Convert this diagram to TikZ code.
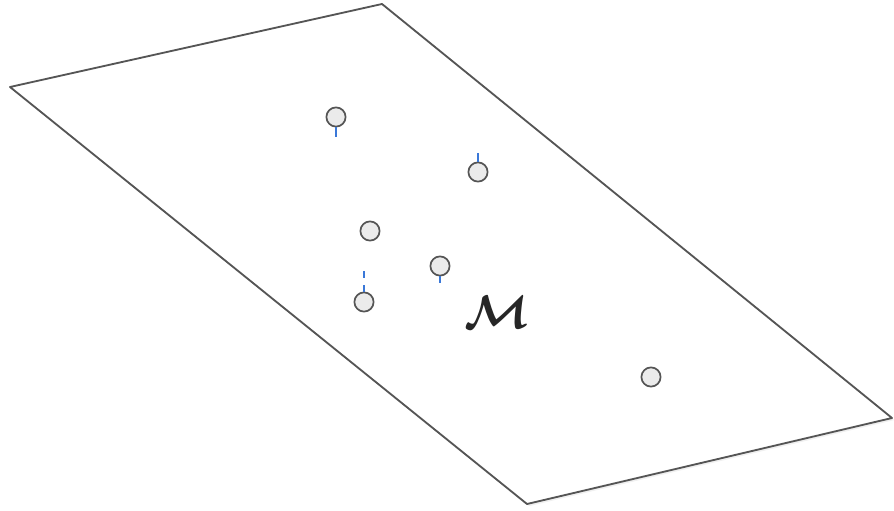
\documentclass[tikz,border=0pt]{standalone}
\usepackage{amsmath,amssymb,bm}
\usepackage{xcolor}
\usepackage{tikz}
\usetikzlibrary{shadows}
\definecolor{edgegray}{HTML}{555555}
\definecolor{ptfill}{HTML}{EBEBEB}
\definecolor{offblue}{HTML}{3A78D8}

\begin{document}
\begin{tikzpicture}[x=0.025cm,y=-0.025cm,
 sheet/.style={draw=edgegray,line width=1.3pt,fill=white,line join=round,drop shadow={opacity=0.12,shadow xshift=1.5pt,shadow yshift=-1.5pt}},
 pt/.style={circle,draw=edgegray,fill=ptfill,line width=1.2pt,minimum size=0.48cm,inner sep=0pt},
 off/.style={draw=offblue,line width=1.3pt}]
\path[use as bounding box] (0,0) rectangle (894,511);
\coordinate (c1) at (10,87);\coordinate (c2) at (382,4);\coordinate (c3) at (892,418);\coordinate (c4) at (527,504);
\path[sheet] (c1)--(c2)--(c3)--(c4)--cycle;
\node[font=\Huge,text=black!85] (lab) at (497,312) {\scalebox{1.35}{$\bm{\mathcal{M}}$}};
\node[pt] (p1) at (336,117) {};
\node[pt] (p2) at (478,172) {};
\node[pt] (p3) at (370,231) {};
\node[pt] (p4) at (440,266) {};
\node[pt] (p5) at (364,302) {};
\node[pt] (p6) at (651,377) {};
\coordinate (t1) at (336,137);\coordinate (t2) at (478,153);
\coordinate (t4) at (440,283);\coordinate (t5) at (364,271);
\draw[off] (p1.south)--(t1);
\draw[off] (p2.north)--(t2);
\draw[off] (p4.south)--(t4);
\draw[off,dash pattern=on 0.175cm off 0.175cm] (p5.north)--(t5);
\end{tikzpicture}
\end{document}
